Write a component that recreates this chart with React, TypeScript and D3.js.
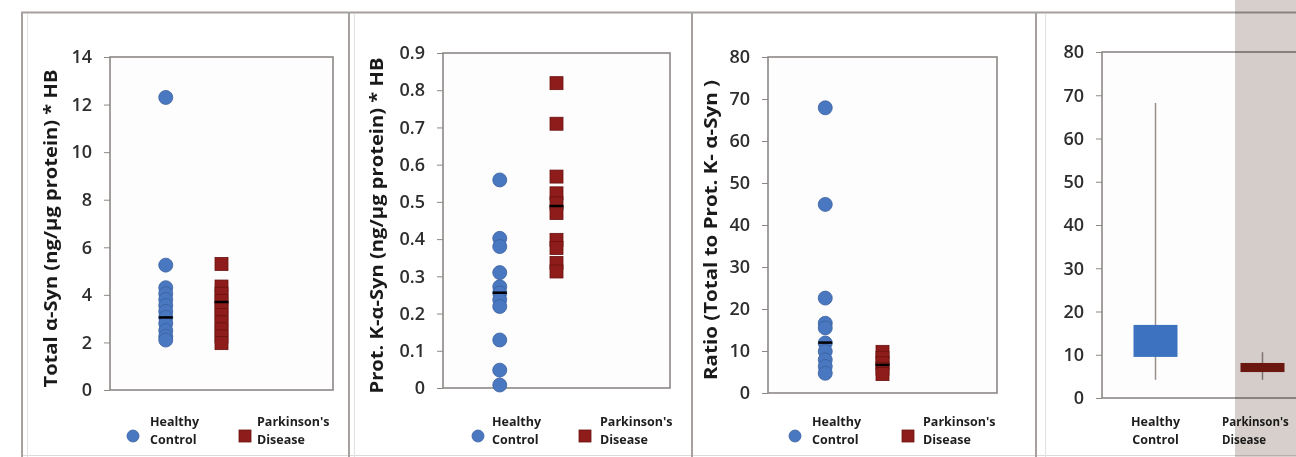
import React, { useRef, useEffect } from 'react';
import * as d3 from 'd3';

const categories = ["Healthy Control", "Parkinson's Disease"];

// panel 1: total alpha-syn
const totalHC = [12.3, 5.25, 4.3, 4.05, 3.8, 3.55, 3.3, 3.05, 2.8, 2.5, 2.25, 2.1];
const totalPD = [5.3, 4.35, 4.05, 3.75, 3.45, 3.15, 2.85, 2.55, 2.25, 1.97];
const totalMedian = [3.05, 3.7];
const totalTicks = [0, 2, 4, 6, 8, 10, 12, 14];

// panel 2: protease K resistant alpha-syn
const protHC = [0.559, 0.402, 0.38, 0.31, 0.272, 0.255, 0.237, 0.219, 0.129, 0.048, 0.008];
const protPD = [0.819, 0.71, 0.568, 0.523, 0.496, 0.47, 0.398, 0.376, 0.336, 0.313];
const protMedian = [0.256, 0.489];
const protTicks = [0, 0.1, 0.2, 0.3, 0.4, 0.5, 0.6, 0.7, 0.8, 0.9];

// panel 3: ratio
const ratioHC = [67.9, 44.9, 22.6, 16.6, 15.5, 11.9, 9.9, 7.9, 6.3, 4.7];
const ratioPD = [9.8, 8.4, 7.1, 5.8, 4.5];
const ratioMedian = [12.0, 6.7];
const ratioTicks = [0, 10, 20, 30, 40, 50, 60, 70, 80];

// panel 4: ratio box plot
const boxMin = [4.2, 4.2];
const boxQ1 = [9.5, 6.0];
const boxQ3 = [16.9, 8.1];
const boxMax = [68.2, 10.6];

const BLUE = "#4a78c0";
const BLUE_EDGE = "#3a5f9e";
const RED = "#8e1c1a";
const RED_EDGE = "#6a1210";
const FRAME = "#8d8886";
const TICK_FONT = "'Open Sans', sans-serif";

const App = () => {
    const ref = useRef<SVGSVGElement>(null);

    useEffect(() => {
        if (!ref.current) return;
        const svg = d3.select(ref.current);
        svg.selectAll("*").remove();

        // outer frames
        const border = "#a6a19f";
        svg.append("line").attr("x1", 21).attr("x2", 1296).attr("y1", 12.5).attr("y2", 12.5)
            .attr("stroke", border).attr("stroke-width", 2);
        svg.append("line").attr("x1", 21).attr("x2", 1296).attr("y1", 455.5).attr("y2", 455.5)
            .attr("stroke", "#dcd9d8").attr("stroke-width", 1);
        [22, 349, 692, 1036].forEach(x => {
            svg.append("line").attr("x1", x).attr("x2", x).attr("y1", 12).attr("y2", 457)
                .attr("stroke", border).attr("stroke-width", 2);
        });
        [27, 354, 1045].forEach(x => {
            svg.append("line").attr("x1", x + 0.5).attr("x2", x + 0.5).attr("y1", 14).attr("y2", 457)
                .attr("stroke", "#e4e2e1").attr("stroke-width", 1);
        });

        const yAxis = (y, ticks, fmt, left) => {
            const g = svg.append("g").attr("transform", `translate(${left},0)`)
                .call(d3.axisLeft(y).tickValues(ticks).tickFormat(fmt).tickSize(6).tickPadding(12));
            g.select(".domain").remove();
            g.selectAll(".tick line").attr("stroke", FRAME);
            g.selectAll(".tick text")
                .attr("font-family", TICK_FONT)
                .attr("font-size", 18)
                .attr("font-weight", 600)
                .attr("fill", "#2e2e2e");
        };

        const frame = (l, t, r, b) => {
            svg.append("rect").attr("x", l).attr("y", t).attr("width", r - l).attr("height", b - t)
                .attr("fill", "#fdfdfd").attr("stroke", FRAME).attr("stroke-width", 1.6);
        };

        const legendText = (x, y, lines, anchor = "start", size = 12.5) => {
            const t = svg.append("text").attr("x", x).attr("y", y)
                .attr("font-family", TICK_FONT).attr("font-size", size).attr("font-weight", 700)
                .attr("fill", "#1e1e1e").attr("text-anchor", anchor);
            lines.forEach((s, i) => {
                t.append("tspan").attr("x", x).attr("dy", i === 0 ? 0 : 18).text(s);
            });
        };

        const scatterPanel = (cfg) => {
            const y = d3.scaleLinear().domain([0, cfg.ticks[cfg.ticks.length - 1]]).range([cfg.bottom, cfg.top]);
            const x = d3.scaleLinear().domain([0, 4]).range([cfg.left, cfg.right]);
            frame(cfg.left, cfg.top, cfg.right, cfg.bottom);
            yAxis(y, cfg.ticks, cfg.fmt, cfg.left);

            svg.append("text")
                .attr("transform", `translate(${cfg.titleX},${(cfg.top + cfg.bottom) / 2 + 5}) rotate(-90)`)
                .attr("text-anchor", "middle")
                .attr("dominant-baseline", "middle")
                .attr("font-family", TICK_FONT)
                .attr("font-size", 17)
                .attr("font-weight", 700)
                .attr("fill", "#1a1a1a")
                .attr("textLength", cfg.titleLen)
                .attr("lengthAdjust", "spacingAndGlyphs")
                .text(cfg.title);

            const s = 13;
            svg.append("g").selectAll("rect").data(cfg.pd).enter().append("rect")
                .attr("x", x(2) - s / 2).attr("y", d => y(d) - s / 2)
                .attr("width", s).attr("height", s)
                .attr("fill", RED).attr("stroke", RED_EDGE).attr("stroke-width", 0.8);
            svg.append("g").selectAll("circle").data(cfg.hc).enter().append("circle")
                .attr("cx", x(1)).attr("cy", d => y(d)).attr("r", 7)
                .attr("fill", BLUE).attr("stroke", BLUE_EDGE).attr("stroke-width", 0.8);
            svg.append("g").selectAll("line").data(cfg.median).enter().append("line")
                .attr("x1", (d, i) => x(i + 1) - 7).attr("x2", (d, i) => x(i + 1) + 7)
                .attr("y1", d => y(d)).attr("y2", d => y(d))
                .attr("stroke", "#000").attr("stroke-width", 2.5);

            const lg = cfg.legend;
            svg.append("circle").attr("cx", lg[0]).attr("cy", 436).attr("r", 6)
                .attr("fill", BLUE).attr("stroke", BLUE_EDGE).attr("stroke-width", 0.8);
            legendText(lg[1], 426, categories[0].split(" "));
            svg.append("rect").attr("x", lg[2] - 6).attr("y", 430).attr("width", 12).attr("height", 12)
                .attr("fill", RED).attr("stroke", RED_EDGE).attr("stroke-width", 0.8);
            legendText(lg[3], 426, categories[1].split(" "));
        };

        scatterPanel({
            left: 110, right: 333, top: 57, bottom: 390,
            ticks: totalTicks, fmt: d3.format("d"),
            title: "Total α-Syn (ng/µg protein) * HB", titleX: 52, titleLen: 318,
            hc: totalHC, pd: totalPD, median: totalMedian,
            legend: [133, 150, 245, 257],
        });
        scatterPanel({
            left: 443, right: 670, top: 53, bottom: 388,
            ticks: protTicks, fmt: d => (d === 0 ? "0" : d3.format(".1f")(d)),
            title: "Prot. K-α-Syn (ng/µg protein) * HB", titleX: 378, titleLen: 336,
            hc: protHC, pd: protPD, median: protMedian,
            legend: [478, 492, 585, 600],
        });
        scatterPanel({
            left: 768, right: 997, top: 57, bottom: 393,
            ticks: ratioTicks, fmt: d3.format("d"),
            title: "Ratio (Total to Prot. K- α-Syn )", titleX: 712, titleLen: 300,
            hc: ratioHC, pd: ratioPD, median: ratioMedian,
            legend: [795, 812, 908, 923],
        });

        // box plot panel
        const bl = 1102, bt = 52, bb = 398, br = 1316;
        const by = d3.scaleLinear().domain([0, 80]).range([bb, bt]);
        const bx = d3.scaleBand().domain(categories).range([bl, br]);
        frame(bl, bt, br, bb);
        yAxis(by, ratioTicks, d3.format("d"), bl);
        const boxColors = ["#3d72c0", "#7e1c14"];
        categories.forEach((c, i) => {
            const cx = bx(c) + bx.bandwidth() / 2;
            svg.append("line").attr("x1", cx).attr("x2", cx)
                .attr("y1", by(boxMax[i])).attr("y2", by(boxMin[i]))
                .attr("stroke", "#9a8e8a").attr("stroke-width", 1.5);
            svg.append("rect").attr("x", cx - 22).attr("width", 44)
                .attr("y", by(boxQ3[i])).attr("height", by(boxQ1[i]) - by(boxQ3[i]))
                .attr("fill", boxColors[i]);
        });
        legendText(bx(categories[0]) + bx.bandwidth() / 2, 426, categories[0].split(" "), "middle");
        legendText(1222, 426, categories[1].split(" "), "start", 11.5);

        // grey overlay on the right edge (multiplied so dark marks stay dark)
        svg.append("rect").attr("x", 1235).attr("y", 0).attr("width", 61).attr("height", 457)
            .attr("fill", "rgb(214,207,204)").style("mix-blend-mode", "multiply");
    }, []);

    return (
        <div>
            <style>{`body{margin:0;background:#fff}`}</style>
            <svg ref={ref} width={1296} height={457} style={{ display: 'block', isolation: 'isolate' }} />
        </div>
    );
};

export default App;
